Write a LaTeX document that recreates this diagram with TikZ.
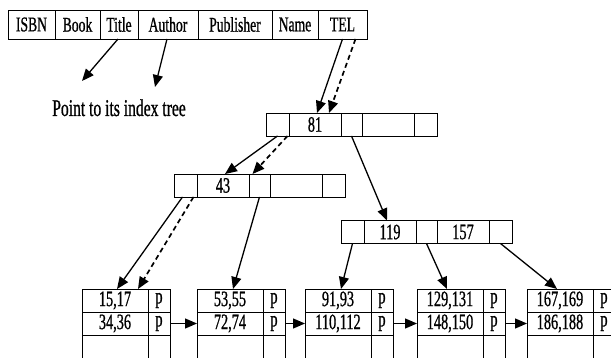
\documentclass[tikz,border=0pt]{standalone}
\usepackage{fontspec}
\setmainfont{Liberation Serif}[FakeStretch=0.65,FakeBold=0.8]
\usetikzlibrary{arrows.meta}
\tikzset{
  cell/.style={draw, line width=0.8pt, minimum height=23pt, inner sep=0pt, outer sep=0pt,
    font=\fontsize{22}{22}\selectfont, anchor=west},
  hcell/.style={cell, minimum height=29pt, font=\fontsize{21}{21}\selectfont},
  arr/.style={-{Triangle[length=12pt,width=10pt]}, line width=1.3pt},
  dsh/.style={arr, line width=1.7pt, dash pattern=on 5pt off 3.5pt},
  lbl/.style={font=\fontsize{24}{24}\selectfont, inner sep=0pt, anchor=base}
}
\newcommand\mkinnerb[5]{%
  \node[cell,minimum width=23pt] (#1a) at (#2,#3) {};
  \node[cell,minimum width=52pt] (#1b) at (#1a.east) {#4};
  \node[cell,minimum width=21pt] (#1c) at (#1b.east) {};
  \node[cell,minimum width=52pt] (#1d) at (#1c.east) {#5};
  \node[cell,minimum width=23pt] (#1e) at (#1d.east) {};
}
\newcommand\mkleaf[4]{%
  \node[cell,minimum width=66pt] (#1ka) at (#2,300.5) {#3};
  \node[cell,minimum width=22pt] (#1pa) at (#1ka.east) {p};
  \node[cell,minimum width=66pt] (#1kb) at (#2,323.5) {#4};
  \node[cell,minimum width=22pt] (#1pb) at (#1kb.east) {p};
  \node[cell,minimum width=66pt] (#1kc) at (#2,346.5) {};
  \node[cell,minimum width=22pt] (#1pc) at (#1kc.east) {};
}
\begin{document}
\begin{tikzpicture}[x=1pt,y=-1pt]
\clip (0,0) rectangle (611,358);
\fill[white] (0,0) rectangle (611,358);
% top table
\node[hcell,minimum width=47pt] (isbn) at (8,24.5) {ISBN};
\node[hcell,minimum width=45pt] (book) at (isbn.east) {Book};
\node[hcell,minimum width=38pt] (title) at (book.east) {Title};
\node[hcell,minimum width=60pt] (author) at (title.east) {Author};
\node[hcell,minimum width=74pt] (publisher) at (author.east) {Publisher};
\node[hcell,minimum width=46pt] (name) at (publisher.east) {Name};
\node[hcell,minimum width=49pt] (tel) at (name.east) {TEL};
\coordinate (tt) at (82,81);
\coordinate (at) at (155,87);
\draw[arr] ([xshift=-1pt]title.south) -- (tt);
\draw[arr] ([xshift=-1pt]author.south) -- (at);
\node[lbl] (point) at (119,116) {Point to its index tree};
% internal nodes
\mkinnerb{r}{266}{124.5}{81}{}
\mkinnerb{m}{174}{185.5}{43}{}
\mkinnerb{q}{341}{232}{119}{157}
% leaves
\mkleaf{l1}{82}{15,17}{34,36}
\mkleaf{l2}{197}{53,55}{72,74}
\mkleaf{l3}{305}{91,93}{110,112}
\mkleaf{l4}{417}{129,131}{148,150}
\mkleaf{l5}{527}{167,169}{186,188}
% connectors
\draw[arr] (tel.south) -- ([xshift=2pt]rb.north);
\draw[dsh] ([xshift=13pt]tel.south) -- ([xshift=14pt]rb.north);
\draw[arr] (ra.south) -- ([xshift=2pt]mb.north);
\draw[dsh] ([xshift=10pt]ra.south) -- ([xshift=-7pt]mc.north);
\draw[arr] (rc.south) -- ([xshift=-3pt]qb.north);
\draw[arr] ([xshift=-3pt]ma.south) -- ([xshift=2pt]l1ka.north);
\draw[dsh] ([xshift=8pt]ma.south) -- ([xshift=23pt]l1ka.north);
\draw[arr] (mc.south) -- ([xshift=3pt]l2ka.north);
\draw[arr] (qa.south) -- ([xshift=3pt]l3ka.north);
\draw[arr] (qc.south) -- ([xshift=-3pt]l4ka.north);
\draw[arr] (qe.south) -- ([xshift=-3pt]l5ka.north);
\draw[arr] (l1pb.east) -- (l2kb.west);
\draw[arr] (l2pb.east) -- (l3kb.west);
\draw[arr] (l3pb.east) -- (l4kb.west);
\draw[arr] (l4pb.east) -- (l5kb.west);
\end{tikzpicture}
\end{document}
